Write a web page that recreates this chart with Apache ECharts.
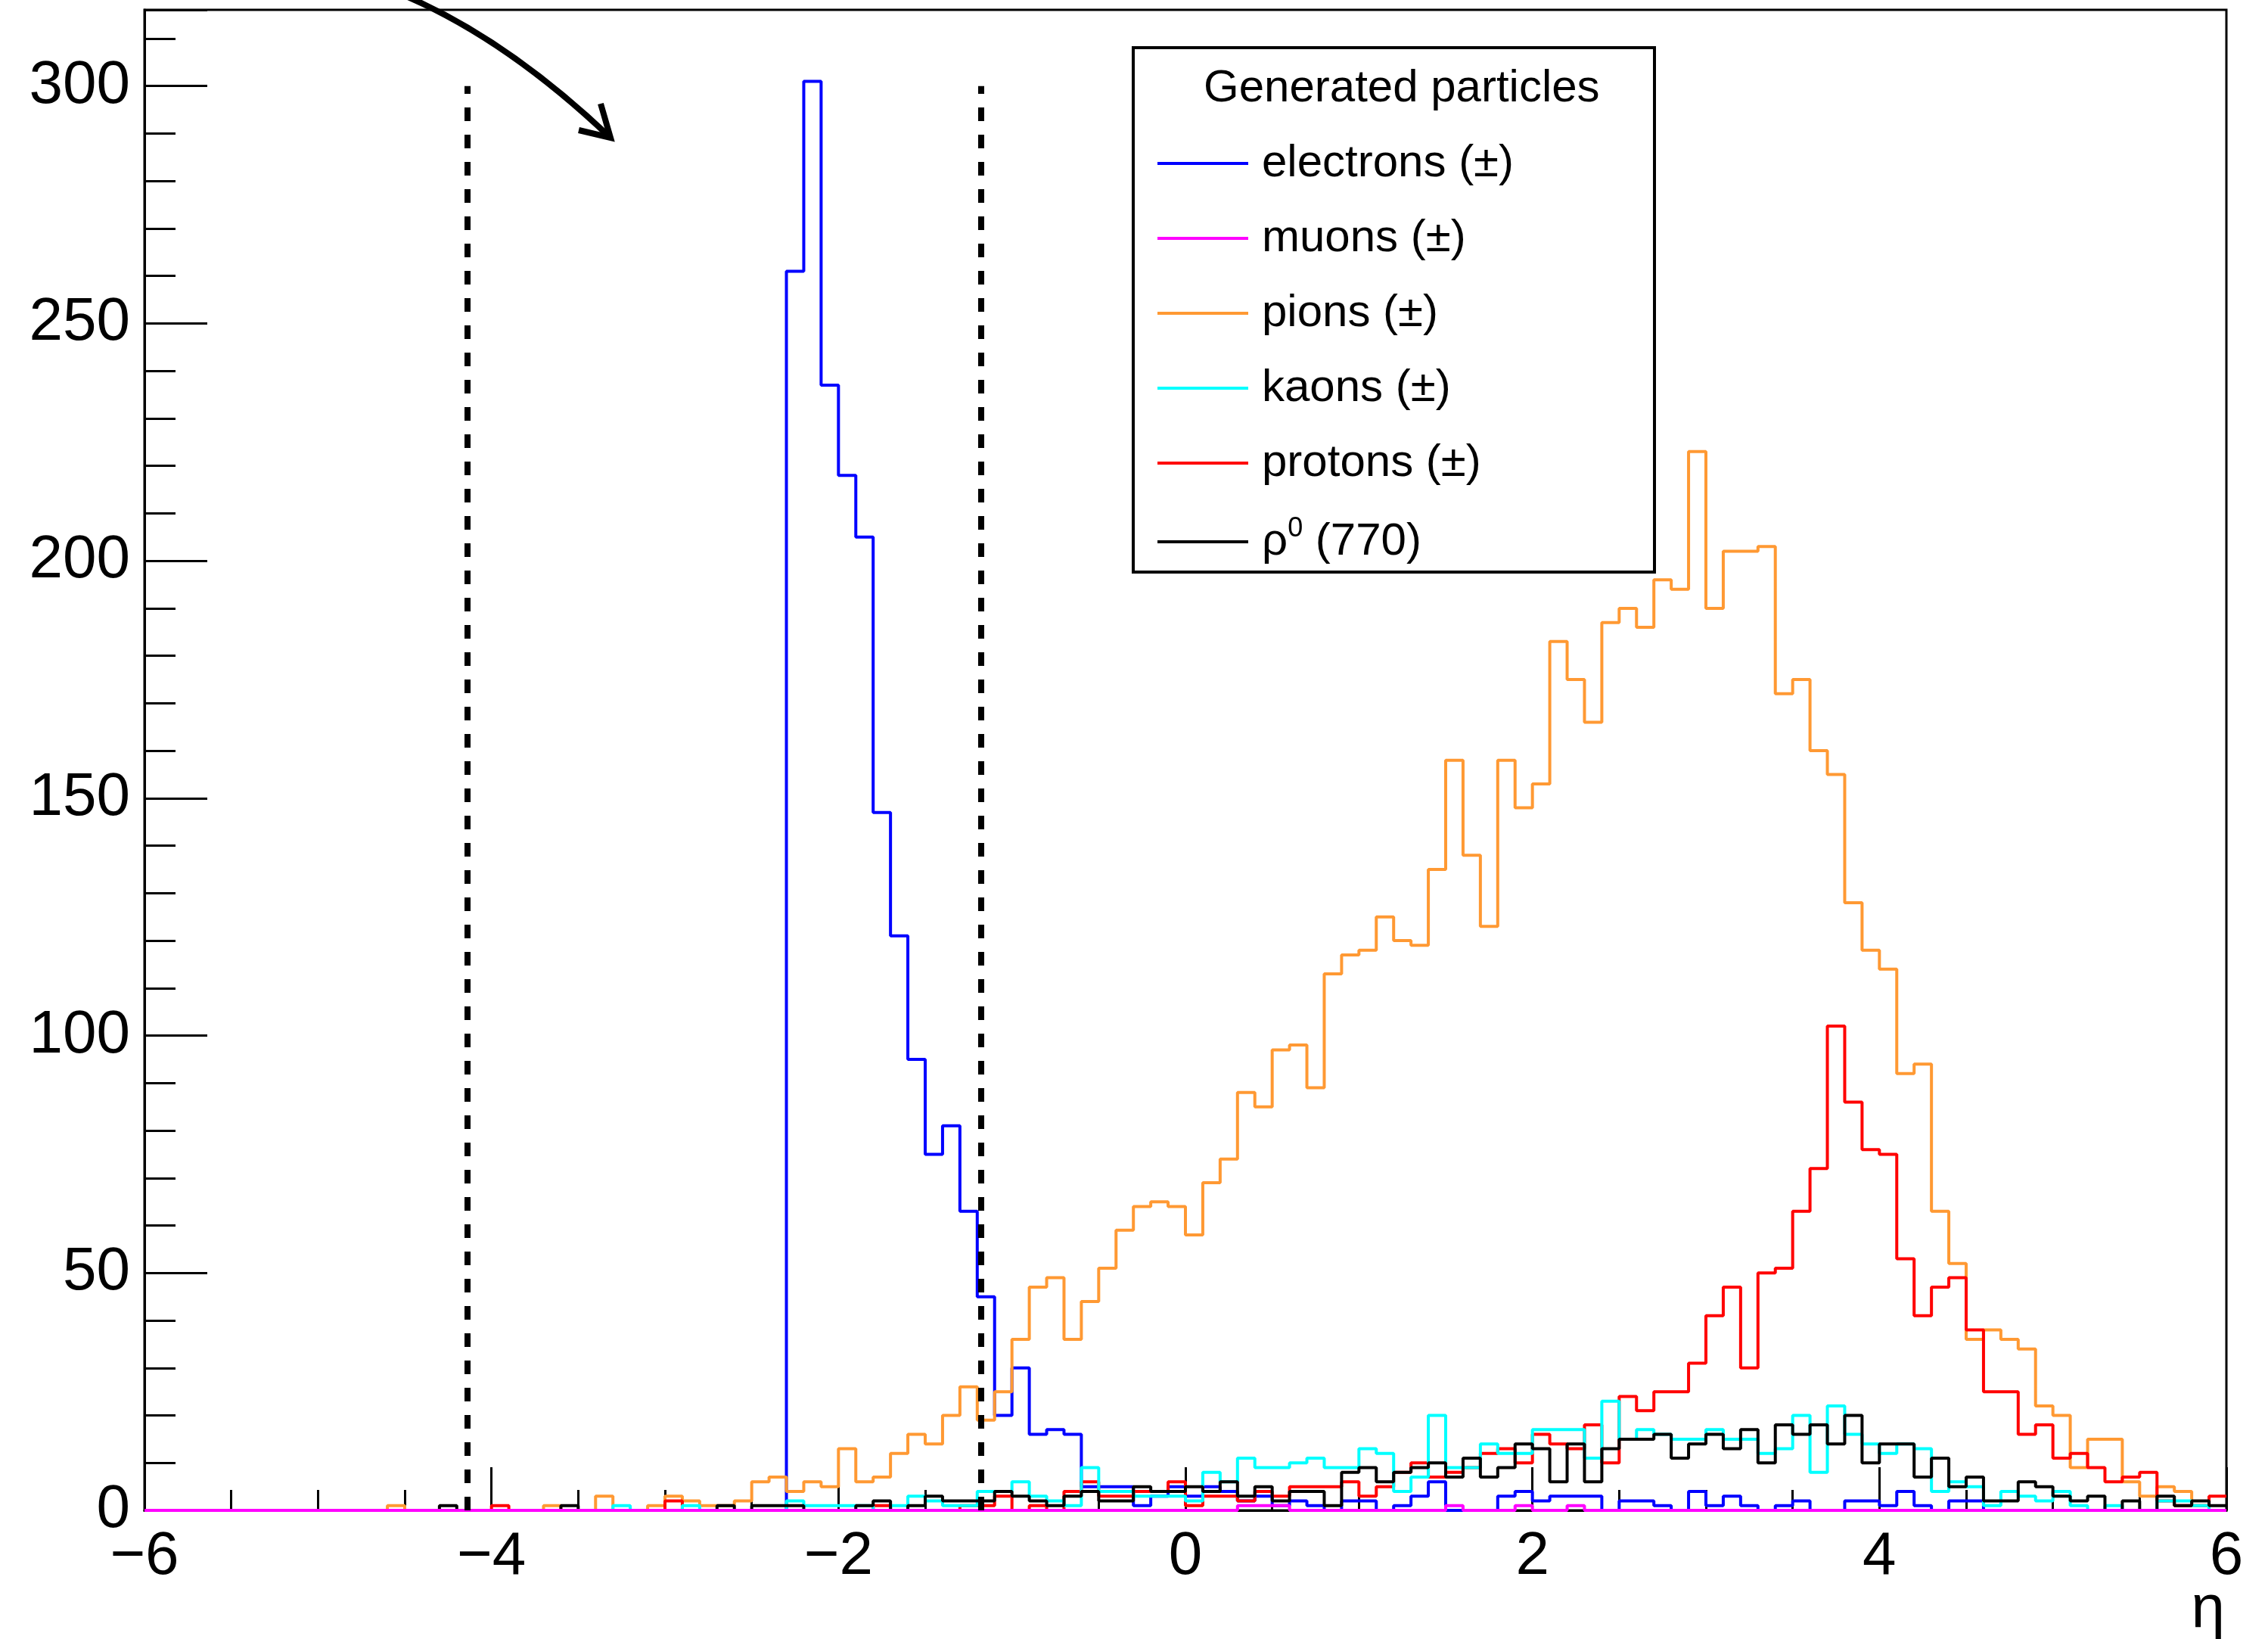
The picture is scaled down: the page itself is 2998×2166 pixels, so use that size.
<!DOCTYPE html>
<html>
<head>
<meta charset="utf-8" />
<title>Generated particles vs eta</title>
<script src="https://cdn.jsdelivr.net/npm/echarts@6/dist/echarts.min.js"></script>
<style>
  html, body { margin: 0; padding: 0; background: #fff; }
  #chartmain { width: 2998px; height: 2166px; }
</style>
</head>
<body>
<div id="chartmain"></div>
<script type="text/javascript">
  // binning: 120 bins of 0.1 in eta from -6 to 6
  var etaMin = -6, etaMax = 6, binWidth = 0.1;
  var yMax = 316.05;            // 1.05 * highest bin
  var xTicks = [-6, -4, -2, 0, 2, 4, 6];
  var yTicks = [0, 50, 100, 150, 200, 250, 300];
  var cutEta = [-4.14, -1.18];  // dashed acceptance lines
  var cutTop = 300;

  var electrons = [
    0,0,0,0,0,0,0,0,0,0,
    0,0,0,0,0,0,0,0,0,0,
    0,0,0,0,0,0,0,0,0,0,
    0,0,0,0,0,0,0,261,301,237,
    218,205,147,121,95,75,81,63,45,20,
    30,16,17,16,5,5,5,1,3,5,
    3,5,4,2,3,1,2,1,0,2,
    2,0,1,3,6,0,0,0,3,4,
    2,3,3,3,0,2,2,1,0,4,
    1,3,1,0,1,2,0,0,2,2,
    1,4,1,0,2,2,0,0,0,0,
    0,0,0,0,0,0,0,0,0,0
  ];
  var muons = [
    0,0,0,0,0,0,0,0,0,0,
    0,0,0,0,0,0,0,0,0,0,
    0,0,0,0,0,0,0,0,0,0,
    0,0,0,0,0,0,0,0,0,0,
    0,0,0,0,0,0,0,0,0,0,
    0,0,0,0,0,0,0,0,0,0,
    0,0,0,1,1,1,0,0,0,0,
    0,0,0,0,0,1,0,0,0,1,
    0,0,1,0,0,0,0,0,0,0,
    0,0,0,0,0,0,0,0,0,0,
    0,0,0,0,0,0,0,0,0,0,
    0,0,0,0,0,0,0,0,0,0
  ];
  var pions = [
    0,0,0,0,0,0,0,0,0,0,
    0,0,0,0,1,0,0,0,0,0,
    0,0,0,1,0,0,3,0,0,1,
    3,2,1,1,2,6,7,4,6,5,
    13,6,7,12,16,14,20,26,19,25,
    36,47,49,36,44,51,59,64,65,64,
    58,69,74,88,85,97,98,89,113,117,
    118,125,120,119,135,158,138,123,158,148,
    153,183,175,166,187,190,186,196,194,223,
    190,202,202,203,172,175,160,155,128,118,
    114,92,94,63,52,36,38,36,34,22,
    20,9,15,15,6,3,5,4,1,0
  ];
  var kaons = [
    0,0,0,0,0,0,0,0,0,0,
    0,0,0,0,0,0,0,0,0,0,
    0,0,0,0,0,0,0,1,0,0,
    0,1,0,0,0,0,0,2,1,1,
    1,1,0,1,3,2,1,1,4,4,
    6,3,2,1,9,4,4,3,3,3,
    2,8,6,11,9,9,10,11,9,9,
    13,12,4,7,20,9,9,14,12,12,
    17,17,17,11,23,15,17,16,15,15,
    17,15,15,12,13,20,8,22,16,14,
    12,14,13,4,6,5,1,4,3,2,
    4,1,0,1,0,0,2,2,1,0
  ];
  var protons = [
    0,0,0,0,0,0,0,0,0,0,
    0,0,0,0,0,0,0,0,0,0,
    1,0,0,0,0,0,0,0,0,0,
    2,0,0,0,0,0,0,0,0,0,
    0,0,1,0,0,0,0,1,1,3,
    0,1,0,4,6,3,3,4,4,6,
    1,3,3,2,4,3,5,5,5,6,
    3,5,8,10,7,8,9,12,13,10,
    16,14,13,18,10,24,21,25,25,31,
    41,47,30,50,51,63,72,102,86,76,
    75,53,41,47,49,38,25,25,16,18,
    11,12,9,6,7,8,2,1,1,3
  ];
  var rho = [
    0,0,0,0,0,0,0,0,0,0,
    0,0,0,0,0,0,0,1,0,0,
    0,0,0,0,1,0,0,0,0,0,
    0,0,0,1,0,1,1,1,0,0,
    0,1,2,0,1,3,2,2,2,4,
    3,2,1,3,4,2,2,5,4,4,
    5,4,6,3,5,2,4,4,1,8,
    9,6,8,9,10,7,11,7,9,14,
    13,6,14,6,13,15,15,16,11,14,
    16,13,17,10,18,16,18,14,20,10,
    14,14,7,11,5,7,2,2,6,5,
    3,2,3,0,2,0,3,1,2,1
  ];

  var FONT = 'Liberation Sans, Arial, Helvetica, sans-serif';

  // bin left edges + closing point, drawn with step:'end'
  function toSteps(counts) {
    var pts = counts.map(function (c, i) {
      return [Math.round((etaMin + i * binWidth) * 10) / 10, c];
    });
    pts.push([etaMax, counts[counts.length - 1]]);
    return pts;
  }

  function histSeries(name, counts, color) {
    return {
      name: name,
      type: 'line',
      step: 'end',
      data: toSteps(counts),
      showSymbol: false,
      symbol: 'none',
      color: color,
      lineStyle: { color: color, width: 4 },
      itemStyle: { color: color },
      silent: true
    };
  }

  function minus(v) {
    return v < 0 ? '\u2212' + Math.abs(v) : String(v);
  }

  var myChart = echarts.init(document.getElementById('chartmain'));
  var option = {
    backgroundColor: '#fff',
    animation: false,
    textStyle: { fontFamily: FONT },
    title: {
      text: 'Generated particles',
      left: 1586,
      top: 82,
      textStyle: { fontSize: 60, fontWeight: 'normal', color: '#000', fontFamily: FONT }
    },
    legend: {
      orient: 'vertical',
      left: 1525,
      top: 181,
      itemWidth: 120,
      itemHeight: 4,
      itemGap: 39,
      icon: 'rect',
      z: 10,
      data: ['electrons (\u00b1)', 'muons (\u00b1)', 'pions (\u00b1)', 'kaons (\u00b1)', 'protons (\u00b1)', 'rho'],
      formatter: function (name) {
        if (name === 'rho') return '{g|\u03c1}{s|0}{g| (770)}';
        return name;
      },
      textStyle: {
        fontSize: 60,
        color: '#000',
        fontFamily: FONT,
        padding: [0, 0, 0, 13],
        rich: {
          g: { fontSize: 60, fontFamily: FONT, color: '#000' },
          s: { fontSize: 36, fontFamily: FONT, color: '#000', padding: [0, 0, 34, 0] }
        }
      }
    },
    graphic: [
      {
        type: 'rect',
        z: 1,
        shape: { x: 1498, y: 63, width: 689, height: 693 },
        style: { fill: '#fff', stroke: '#000', lineWidth: 4 }
      },
      {
        // curved arrow annotation at the top left
        type: 'bezierCurve',
        z: 5,
        shape: { x1: 520, y1: -12, x2: 807, y2: 182, cpx1: 663, cpy1: 45 },
        style: { stroke: '#000', lineWidth: 8, fill: null }
      },
      {
        type: 'polyline',
        z: 5,
        shape: { points: [[794, 137], [807, 182], [765, 172]] },
        style: { stroke: '#000', lineWidth: 8, fill: null, lineJoin: 'miter' }
      },
      {
        // axis title, under the right end of the x axis
        type: 'text',
        z: 5,
        x: 2941,
        y: 2088,
        style: {
          text: '\u03b7', fontSize: 80, fontFamily: FONT, fill: '#000',
          align: 'right', verticalAlign: 'top'
        }
      }
    ],
    grid: {
      left: 191,
      right: 55,
      top: 13,
      bottom: 170,
      containLabel: false,
      outerBoundsMode: 'none',
      show: true,
      borderColor: '#000',
      borderWidth: 3,
      backgroundColor: 'transparent'
    },
    xAxis: {
      type: 'value',
      min: xTicks[0],
      max: xTicks[xTicks.length - 1],
      interval: 2,
      axisLine: { show: true, onZero: false, lineStyle: { color: '#000', width: 3 } },
      axisTick: { show: true, inside: true, length: 57, lineStyle: { color: '#000', width: 3 } },
      minorTick: { show: true, splitNumber: 4, length: 27, lineStyle: { color: '#000', width: 3 } },
      splitLine: { show: false },
      axisLabel: {
        fontSize: 80, color: '#000', fontFamily: FONT, margin: 22,
        formatter: minus
      }
    },
    yAxis: {
      type: 'value',
      min: yTicks[0],
      max: yMax,
      interval: 50,
      axisLine: { show: true, onZero: false, lineStyle: { color: '#000', width: 3 } },
      axisTick: { show: true, inside: true, length: 83, lineStyle: { color: '#000', width: 3 } },
      minorTick: { show: true, splitNumber: 5, length: 41, lineStyle: { color: '#000', width: 3 } },
      splitLine: { show: false },
      axisLabel: {
        fontSize: 80, color: '#000', fontFamily: FONT, margin: 19,
        showMaxLabel: false
      }
    },
    series: [
      histSeries('electrons (\u00b1)', electrons, '#0000ff'),
      histSeries('pions (\u00b1)', pions, '#ff9933'),
      histSeries('protons (\u00b1)', protons, '#ff0000'),
      histSeries('kaons (\u00b1)', kaons, '#00ffff'),
      histSeries('rho', rho, '#000000'),
      histSeries('muons (\u00b1)', muons, '#ff00ff'),
      {
        name: 'cuts',
        type: 'line',
        data: [],
        silent: true,
        markLine: {
          silent: true,
          symbol: ['none', 'none'],
          label: { show: false },
          lineStyle: { color: '#000', width: 8, type: [18, 18], cap: 'butt' },
          data: cutEta.map(function (x) {
            return [{ coord: [x, 0] }, { coord: [x, cutTop] }];
          })
        }
      }
    ]
  };
  myChart.setOption(option);
</script>
</body>
</html>
